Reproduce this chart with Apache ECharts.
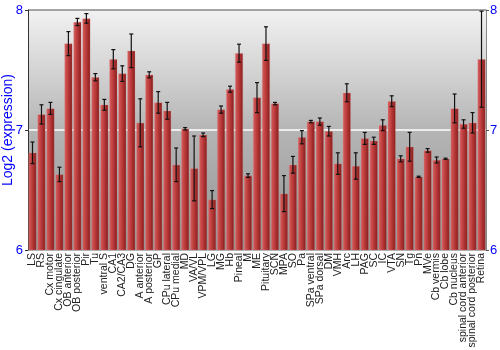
<!DOCTYPE html>
<html><head><meta charset="utf-8">
<script src="https://cdn.jsdelivr.net/npm/echarts@6/dist/echarts.min.js"></script>
<style>html,body{margin:0;padding:0;background:#fff}#c{width:500px;height:350px}</style>
</head><body><div id="c"></div>
<script>
var categories = ["LS","RS","Cx motor","Cx cingulate","OB anterior","OB posterior","Pir","Tu","ventral S","CA1","CA2/CA3","DG","A anterior","A posterior","GP","CPu lateral","CPu medial","MD","VA/VL","VPM/VPL","LG","MG","Hb","Pineal","M","ME","Pituitary","SCN","MPA","SO","Pa","SPa ventral","SPa dorsal","DM","VMH","Arc","LH","PAG","SC","IC","VTA","SN","Tg","Pn","MVe","Cb vermis","Cb lobe","Cb nucleus","spinal cord anterior","spinal cord posterior","Retina"];
var values = [6.81,7.13,7.18,6.63,7.72,7.90,7.93,7.44,7.21,7.59,7.47,7.66,7.06,7.46,7.23,7.16,6.71,7.01,6.68,6.96,6.42,7.17,7.34,7.64,6.62,7.27,7.72,7.22,6.47,6.71,6.94,7.07,7.07,6.99,6.72,7.31,6.70,6.93,6.91,7.04,7.24,6.76,6.86,6.61,6.83,6.75,6.76,7.18,7.05,7.06,7.59];
var errors = [0.09,0.08,0.05,0.06,0.10,0.03,0.04,0.03,0.045,0.08,0.065,0.14,0.20,0.025,0.09,0.07,0.14,0.01,0.27,0.015,0.075,0.03,0.025,0.075,0.015,0.125,0.14,0.01,0.15,0.07,0.055,0.01,0.03,0.04,0.09,0.075,0.11,0.05,0.03,0.045,0.045,0.025,0.12,0.005,0.015,0.025,0.005,0.12,0.035,0.085,0.40];
var yTicks = [6,7,8];

var errData = values.map(function(v,i){return [i, v-errors[i], v+errors[i]];});
var chart = echarts.init(document.getElementById('c'), null, {renderer:'canvas'});
var blue = '#0000ff';
var ff = 'Liberation Sans, Arial, sans-serif';
chart.setOption({
  animation:false,
  grid:{left:28,right:14,top:10,bottom:100,show:true,borderWidth:0,outerBoundsMode:'none',containLabel:false,
    backgroundColor:{type:'linear',x:0,y:0,x2:0,y2:1,colorStops:[{offset:0,color:'#f2f2f2'},{offset:0.5,color:'#b5b5b5'},{offset:1,color:'#939393'}]}},
  xAxis:{type:'category',data:categories,
    axisLine:{show:false},axisTick:{show:false},
    axisLabel:{interval:0,rotate:90,fontSize:10.5,color:'#222',margin:3,fontFamily:ff}},
  yAxis:[{type:'value',min:6,max:8,interval:1,position:'left',
    name:'Log2 (expression)',nameLocation:'middle',nameGap:13,nameMoveOverlap:false,
    nameTextStyle:{color:blue,fontSize:14,fontFamily:ff},
    axisLine:{show:true,lineStyle:{color:'#333',width:1}},
    axisTick:{show:true,length:3,lineStyle:{color:'#333'}},
    axisLabel:{color:blue,fontSize:13,margin:5,fontFamily:ff,formatter:function(v){return yTicks.indexOf(v)>=0?String(v):'';}},
    splitLine:{show:true,lineStyle:{color:['#999','#ffffff','#888'],width:1.5}}},
   {type:'value',min:6,max:8,interval:1,position:'right',
    axisLine:{show:true,lineStyle:{color:'#888',width:1}},
    axisTick:{show:true,length:3,lineStyle:{color:'#555'}},
    axisLabel:{color:blue,fontSize:13,margin:4,fontFamily:ff},
    splitLine:{show:false}}],
  series:[{type:'bar',data:values,barCategoryGap:'12%',
    itemStyle:{color:{type:'linear',x:0,y:0,x2:1,y2:0,colorStops:[{offset:0,color:'#d46060'},{offset:0.45,color:'#bd3c3c'},{offset:1,color:'#851c1c'}]},
      borderColor:'rgba(230,140,140,0.5)',borderWidth:0.5}},
   {type:'custom',data:errData,z:5,
    renderItem:function(params,api){
      var x=api.value(0), lo=api.coord([x,api.value(1)]), hi=api.coord([x,api.value(2)]);
      var cx=lo[0], w=2;
      var st={stroke:'#111',lineWidth:1.2};
      return {type:'group',children:[
        {type:'line',shape:{x1:cx,y1:hi[1],x2:cx,y2:lo[1]},style:st},
        {type:'line',shape:{x1:cx-w,y1:hi[1],x2:cx+w,y2:hi[1]},style:st},
        {type:'line',shape:{x1:cx-w,y1:lo[1],x2:cx+w,y2:lo[1]},style:st}
      ]};
    }}]
});
</script></body></html>
